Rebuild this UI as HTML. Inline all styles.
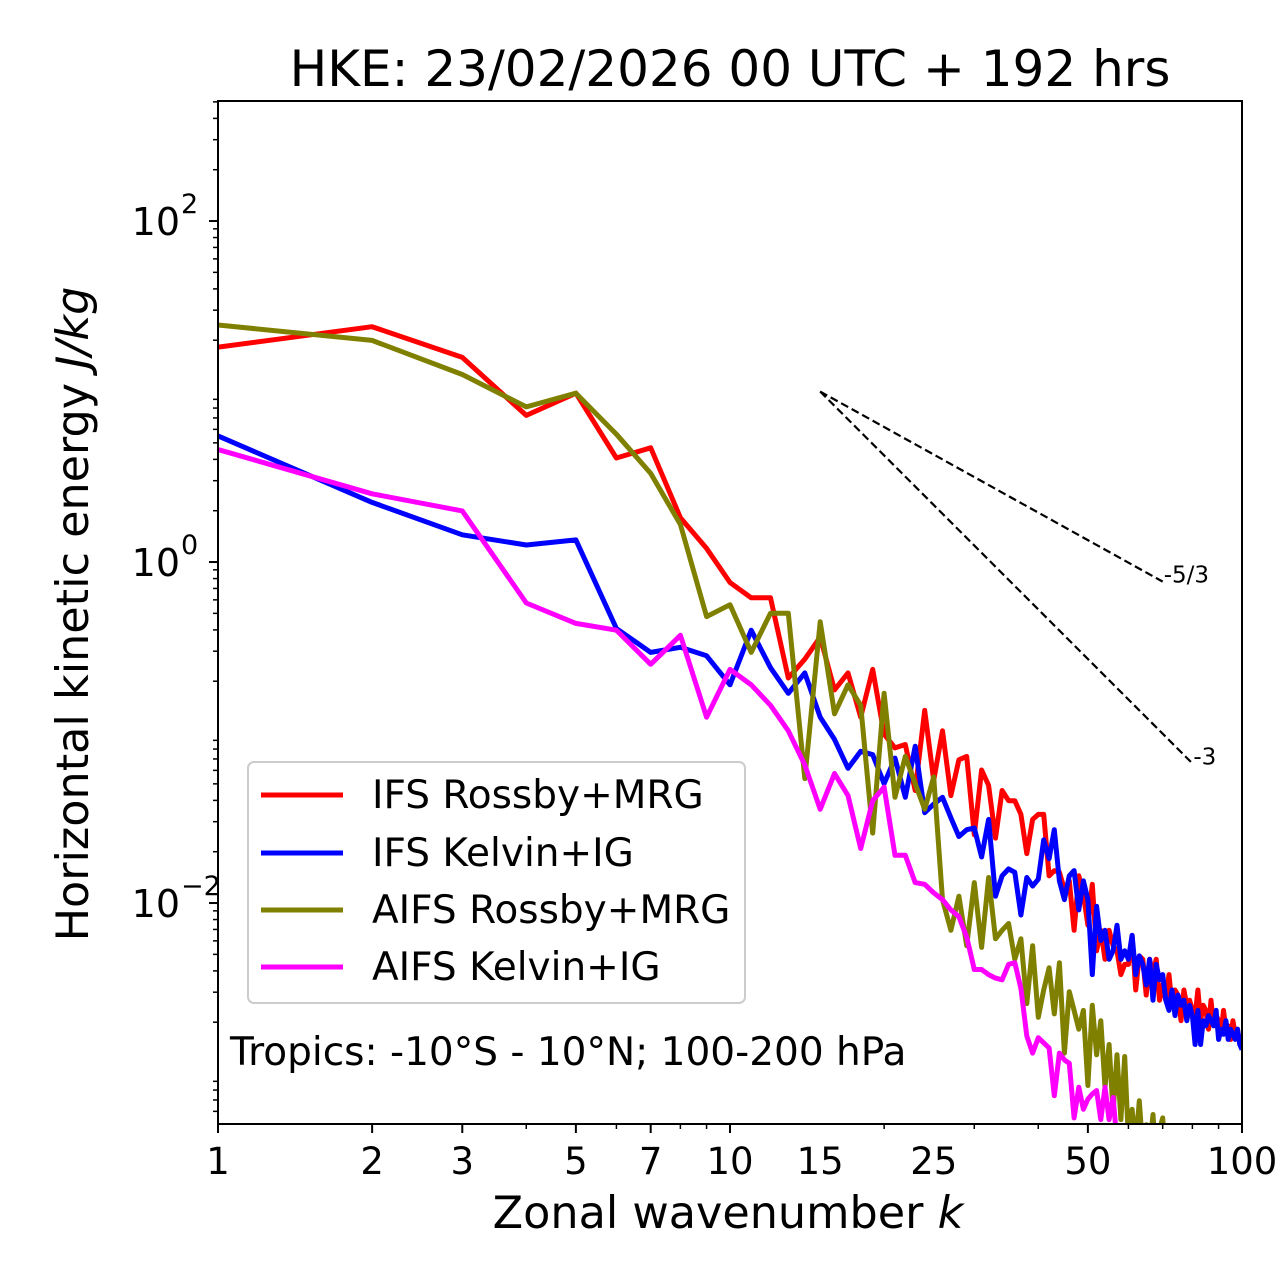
<!DOCTYPE html>
<html>
<head>
<meta charset="utf-8">
<style>
html,body{margin:0;padding:0;background:#fff;}
svg{display:block;font-family:"DejaVu Sans","Liberation Sans",sans-serif;}
</style>
</head>
<body>
<svg id="chart" width="1280" height="1288" viewBox="0 0 1280 1288" xmlns="http://www.w3.org/2000/svg">
  <rect x="0" y="0" width="1280" height="1288" fill="#fff"/>
  <text x="730" y="86" font-size="50" text-anchor="middle">HKE: 23/02/2026 00 UTC + 192 hrs</text>
  <defs><clipPath id="plotclip"><rect x="218" y="101" width="1024" height="1023"/></clipPath></defs>
  <g id="series" clip-path="url(#plotclip)"></g>
  <g id="axes"></g>
  <text x="728" y="1228" font-size="44.5" text-anchor="middle">Zonal wavenumber <tspan font-style="italic">k</tspan></text>
  <text transform="translate(88,614) rotate(-90)" font-size="44.5" text-anchor="middle">Horizontal kinetic energy <tspan font-style="italic">J/kg</tspan></text>
  <g>
    <rect x="248" y="762" width="497" height="241" rx="6" fill="#fff" fill-opacity="0.8" stroke="#ccc" stroke-width="2"/>
    <g><line x1="261" y1="795" x2="343" y2="795" stroke="#ff0000" stroke-width="5"/><text x="372" y="808" font-size="39">IFS Rossby+MRG</text></g>
    <g><line x1="261" y1="853" x2="343" y2="853" stroke="#0000ff" stroke-width="5"/><text x="372" y="866" font-size="39">IFS Kelvin+IG</text></g>
    <g><line x1="261" y1="910" x2="343" y2="910" stroke="#808000" stroke-width="5"/><text x="372" y="923" font-size="39">AIFS Rossby+MRG</text></g>
    <g><line x1="261" y1="967" x2="343" y2="967" stroke="#ff00ff" stroke-width="5"/><text x="372" y="980" font-size="39">AIFS Kelvin+IG</text></g>
  </g>
  <text x="230" y="1065" font-size="39">Tropics: -10°S - 10°N; 100-200 hPa</text>
</svg>
<script>
// Data: log10 of HKE (J/kg) for k = 1..100
const wavenumbers = Array.from({length:100},(_, i)=>i+1);
const ifsRossbyLog = [1.26,1.38,1.20,0.86,0.99,0.61,0.67,0.26,0.08,-0.12,-0.21,-0.21,-0.68,-0.57,-0.44,-0.75,-0.65,-0.91,-0.63,-1.01,
-1.09,-1.07,-1.34,-0.87,-1.28,-0.99,-1.37,-1.16,-1.14,-1.60,-1.22,-1.31,-1.62,-1.34,-1.40,-1.40,-1.48,-1.71,-1.51,-1.48,
-1.48,-1.84,-1.81,-1.82,-1.92,-1.87,-2.16,-1.84,-1.95,-2.13,-1.89,-2.28,-2.16,-2.33,-2.16,-2.25,-2.28,-2.42,-2.36,-2.36,
-2.19,-2.51,-2.31,-2.33,-2.54,-2.33,-2.42,-2.33,-2.57,-2.48,-2.57,-2.42,-2.60,-2.51,-2.54,-2.69,-2.51,-2.60,-2.57,-2.63,
-2.66,-2.51,-2.69,-2.60,-2.63,-2.74,-2.57,-2.72,-2.66,-2.69,-2.77,-2.63,-2.74,-2.72,-2.80,-2.69,-2.77,-2.74,-2.83,-2.83];
const ifsKelvinLog = [0.74,0.35,0.16,0.10,0.13,-0.39,-0.53,-0.50,-0.55,-0.72,-0.40,-0.62,-0.77,-0.65,-0.91,-1.04,-1.21,-1.11,-1.13,-1.30,
-1.15,-1.38,-1.08,-1.47,-1.42,-1.38,-1.50,-1.61,-1.57,-1.56,-1.73,-1.51,-1.96,-1.84,-1.80,-1.82,-2.07,-1.85,-1.90,-1.86,
-1.63,-1.74,-1.57,-1.87,-1.98,-1.84,-1.81,-2.04,-1.87,-1.98,-2.42,-2.02,-2.22,-2.16,-2.33,-2.28,-2.13,-2.33,-2.28,-2.33,
-2.19,-2.42,-2.31,-2.36,-2.48,-2.33,-2.57,-2.36,-2.45,-2.42,-2.57,-2.63,-2.51,-2.66,-2.54,-2.60,-2.57,-2.69,-2.60,-2.66,
-2.83,-2.63,-2.83,-2.69,-2.72,-2.66,-2.69,-2.72,-2.63,-2.80,-2.74,-2.77,-2.69,-2.80,-2.74,-2.77,-2.80,-2.74,-2.83,-2.86];
const aifsRossbyLog = [1.39,1.30,1.10,0.91,0.99,0.75,0.52,0.22,-0.32,-0.25,-0.53,-0.30,-0.30,-1.27,-0.35,-0.89,-0.72,-0.84,-1.59,-0.77,
-1.38,-1.14,-1.30,-1.45,-1.26,-1.98,-2.16,-1.96,-2.25,-1.88,-2.26,-1.85,-2.21,-2.16,-2.12,-2.33,-2.21,-2.59,-2.25,-2.67,
-2.51,-2.38,-2.65,-2.35,-2.88,-2.52,-2.63,-2.74,-2.63,-3.07,-2.60,-2.89,-2.69,-3.08,-2.83,-3.23,-2.89,-3.27,-2.90,-3.39,
-3.21,-3.42,-3.16,-3.45,-3.30,-3.45,-3.24,-3.51,-3.33,-3.26,-3.51,-3.60,-3.55,-3.65,-3.58,-3.66,-3.62,-3.70,-3.64,-3.72,
-3.68,-3.75,-3.70,-3.78,-3.72,-3.80,-3.75,-3.82,-3.78,-3.85,-3.80,-3.86,-3.82,-3.88,-3.85,-3.90,-3.87,-3.92,-3.89,-3.94];
const aifsKelvinLog = [0.66,0.40,0.30,-0.24,-0.36,-0.40,-0.60,-0.43,-0.91,-0.63,-0.72,-0.84,-0.99,-1.19,-1.45,-1.24,-1.37,-1.68,-1.40,-1.32,
-1.72,-1.72,-1.88,-1.89,-1.94,-1.98,-2.04,-2.08,-2.20,-2.39,-2.39,-2.42,-2.44,-2.45,-2.36,-2.35,-2.50,-2.78,-2.88,-2.79,
-2.82,-2.85,-3.13,-2.88,-2.92,-2.94,-3.26,-3.08,-3.21,-3.15,-3.12,-3.10,-3.27,-3.08,-3.27,-3.14,-3.40,-3.50,-3.45,-3.55,
-3.52,-3.60,-3.56,-3.62,-3.60,-3.66,-3.63,-3.68,-3.66,-3.70,-3.68,-3.73,-3.71,-3.76,-3.74,-3.78,-3.76,-3.80,-3.78,-3.82,
-3.80,-3.84,-3.82,-3.86,-3.84,-3.88,-3.86,-3.90,-3.88,-3.92,-3.90,-3.94,-3.92,-3.96,-3.94,-3.98,-3.96,-4.00,-3.98,-4.02];
const xTickLabels = [1,2,3,5,7,10,15,25,50,100];
const yTickExponents = [2,0,-2];
const refAnchorK = 15, refAnchorLog = 1.0;
const refSlopes = [-5/3, -3];
const refEndK = [70, 80];
const refLabels = ["-5/3", "-3"];

const X0=218, X1=1242, Y0=101, Y1=1124;
const xScale = k => X0 + (X1-X0)*Math.log10(k)/2;
const yLogMax = 2.704, yLogMin = -3.296;
const yScale = lg => Y0 + (yLogMax-lg)/(yLogMax-yLogMin)*(Y1-Y0);
const NS="http://www.w3.org/2000/svg";
function mk(tag, attrs, parent){const e=document.createElementNS(NS,tag);for(const a in attrs)e.setAttribute(a,attrs[a]);parent.appendChild(e);return e;}

const series = document.getElementById('series');
const seriesDefs = [[ifsRossbyLog,'#ff0000','ifs-rossby-line'],[ifsKelvinLog,'#0000ff','ifs-kelvin-line'],[aifsRossbyLog,'#808000','aifs-rossby-line'],[aifsKelvinLog,'#ff00ff','aifs-kelvin-line']];
for (const [vals,col,name] of seriesDefs){
  const pts = vals.map((v,i)=>xScale(wavenumbers[i]).toFixed(1)+','+yScale(v).toFixed(1)).join(' ');
  const pl = mk('polyline',{points:pts,fill:'none',stroke:col,'stroke-width':5,'stroke-linejoin':'round'},series);
  
  
}
// reference slopes
refSlopes.forEach((s,i)=>{
  const ye = refAnchorLog + s*Math.log10(refEndK[i]/refAnchorK);
  const ln = mk('line',{x1:xScale(refAnchorK),y1:yScale(refAnchorLog),x2:xScale(refEndK[i]),y2:yScale(ye),stroke:'#000','stroke-width':2.2,'stroke-dasharray':'8,4'},series);
  
  
  const t = mk('text',{x:xScale(refEndK[i])+1,y:yScale(ye)+1,'font-size':23},document.getElementById('chart'));
  t.textContent = refLabels[i];
  
  
});

const axes = document.getElementById('axes');
const frame = mk('rect',{x:X0,y:Y0,width:X1-X0,height:Y1-Y0,fill:'none',stroke:'#000','stroke-width':2},axes);


// x ticks
for (let d=0; d<2; d++){
  for (let m=1; m<=9; m++){
    const k = m*Math.pow(10,d);
    const major = xTickLabels.includes(k);
    mk('line',{x1:xScale(k),x2:xScale(k),y1:Y1,y2:Y1+(major?9:5),stroke:'#000','stroke-width':major?2:1.5},axes);
  }
}
mk('line',{x1:X1,x2:X1,y1:Y1,y2:Y1+9,stroke:'#000','stroke-width':2},axes);
xTickLabels.forEach(k=>{
  const t = mk('text',{x:xScale(k),y:1174,'font-size':37,'text-anchor':'middle'},axes);
  t.textContent = String(k);
  
  
});
// y ticks
for (let d=-4; d<=2; d++){
  for (let m=2; m<=9; m++){
    const lg = d + Math.log10(m);
    if (lg>yLogMax || lg<yLogMin) continue;
    mk('line',{x1:X0-5,x2:X0,y1:yScale(lg),y2:yScale(lg),stroke:'#000','stroke-width':1.5},axes);
  }
}
yTickExponents.forEach(e=>{
  const y = yScale(e);
  mk('line',{x1:X0-9,x2:X0,y1:y,y2:y,stroke:'#000','stroke-width':2},axes);
  const t = mk('text',{x:e<0?180:180,y:y+14,'font-size':38,'text-anchor':'end'},axes);
  t.textContent = '10';
  
  
  const s = mk('text',{x:181,y:y-8,'font-size':27,'text-anchor':'start'},axes);
  s.textContent = (e<0?'\u2212':'')+Math.abs(e);
});
</script>
</body>
</html>
